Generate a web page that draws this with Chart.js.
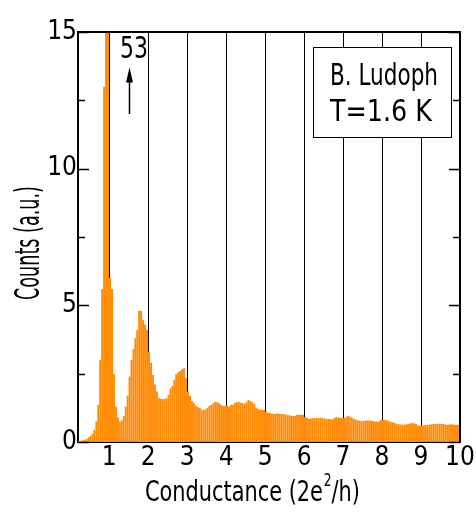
<!DOCTYPE html>
<html lang="en">
<head>
<meta charset="UTF-8">
<title>Conductance histogram</title>
<script src="https://cdn.jsdelivr.net/npm/chart.js"></script>
<style>
    html, body { margin: 0; padding: 0; background: #fff; }
    #chart { display: block; }
</style>
</head>
<body>
<canvas id="chart" width="476" height="512"></canvas>
<script>
    // Histogram bins: 0.05 wide, first bin starts at G = 0.2
    const binStart = 0.2;
    const binWidth = 0.05;
    const counts = [
        0.05, 0.05, 0.06, 0.08, 0.12, 0.17, 0.22, 0.3, 0.45, 0.75, 1.36, 3.0, 5.6, 13, 53, 19,
        6.0, 5.6, 2.5, 1.3, 0.9, 0.75, 0.8, 0.95, 1.3, 1.7, 2.4, 3.0, 3.4, 3.8, 4.1, 4.8, 4.8, 4.45, 4.3, 4.1,
        3.3, 2.9, 2.45, 2.1, 1.85, 1.62, 1.57, 1.58, 1.57, 1.6, 1.73, 1.97, 2.05, 2.27, 2.48, 2.55, 2.6, 2.66, 2.7, 2.34,
        1.85, 1.69, 1.5, 1.42, 1.33, 1.27, 1.24, 1.18, 1.16, 1.2, 1.24, 1.33, 1.35, 1.42, 1.47, 1.45, 1.42, 1.36, 1.33, 1.33,
        1.33, 1.3, 1.36, 1.36, 1.43, 1.45, 1.46, 1.44, 1.42, 1.4, 1.45, 1.54, 1.5, 1.45, 1.4, 1.26, 1.2, 1.19, 1.18, 1.18,
        1.12, 1.08, 1.06, 1.03, 1.03, 1.03, 1.05, 1.02, 1.02, 1.02, 1.01, 1.0, 0.98, 0.96, 0.96, 0.96, 1.0, 1.0, 1.0, 1.0,
        0.91, 0.88, 0.85, 0.86, 0.87, 0.88, 0.88, 0.88, 0.89, 0.88, 0.87, 0.85, 0.84, 0.84, 0.82, 0.87, 0.91, 0.9, 0.88, 0.88,
        0.88, 0.9, 0.95, 0.93, 0.9, 0.85, 0.82, 0.8, 0.78, 0.77, 0.77, 0.78, 0.79, 0.79, 0.78, 0.77, 0.75, 0.75, 0.75, 0.81,
        0.81, 0.81, 0.8, 0.76, 0.74, 0.72, 0.7, 0.67, 0.65, 0.64, 0.64, 0.64, 0.64, 0.66, 0.68, 0.69, 0.69, 0.66, 0.6, 0.6,
        0.6, 0.61, 0.62, 0.63, 0.64, 0.65, 0.66, 0.67, 0.67, 0.67, 0.67, 0.66, 0.64, 0.63, 0.64, 0.65, 0.64, 0.63, 0.63, 0.62
    ];

    // Axis ticks
    const xTicks = [1, 2, 3, 4, 5, 6, 7, 8, 9, 10];
    const yTicks = [0, 5, 10, 15];
    const yMinorTicks = [2.5, 7.5, 12.5];

    // Peak that runs off the top of the plot
    const peakLabel = '53';
    const peakArrowX = 1.52;
    const peakArrowFrom = 12.0;
    const peakArrowTo = 13.7;

    const infoLines = ['B. Ludoph', 'T=1.6 K'];

    const FONT = "'Liberation Sans Narrow', 'DejaVu Sans Condensed', 'DejaVu Sans', sans-serif";

    const points = counts.map((c, i) => ({ x: binStart + binWidth * (i + 0.5), y: c }));

    // draw text squeezed/stretched horizontally so it spans the given width
    function fitText(ctx, text, cx, cy, width, size) {
        ctx.font = size + 'px ' + FONT;
        const k = width / ctx.measureText(text).width;
        ctx.save();
        ctx.translate(cx, cy);
        ctx.scale(k, 1);
        ctx.textAlign = 'center';
        ctx.textBaseline = 'middle';
        ctx.fillText(text, 0, 0);
        ctx.restore();
    }

    // extra drawing: frame, inward ticks, titles, info box and peak marker
    const decorations = {
        id: 'decorations',
        afterDraw(chart) {
            const ctx = chart.ctx;
            const area = chart.chartArea;
            const xs = chart.scales.x;
            const ys = chart.scales.y;

            ctx.save();
            ctx.strokeStyle = '#000';
            ctx.fillStyle = '#000';

            // top and right sides of the frame
            ctx.lineWidth = 2;
            ctx.beginPath();
            ctx.moveTo(area.left - 1, area.top);
            ctx.lineTo(area.right, area.top);
            ctx.lineTo(area.right, area.bottom + 1);
            ctx.stroke();

            // inward ticks on both y sides
            ctx.lineWidth = 1.5;
            ctx.beginPath();
            yTicks.concat(yMinorTicks).forEach(v => {
                const y = Math.round(ys.getPixelForValue(v)) + 0.5;
                const len = yMinorTicks.includes(v) ? 7 : 11;
                ctx.moveTo(area.left, y);
                ctx.lineTo(area.left + len, y);
                ctx.moveTo(area.right, y);
                ctx.lineTo(area.right - len, y);
            });
            ctx.stroke();

            // x title with superscript, squeezed to a narrow face
            ctx.save();
            ctx.translate(145, 493);
            ctx.scale(0.8, 1);
            ctx.textAlign = 'left';
            ctx.textBaseline = 'middle';
            ctx.font = '29px ' + FONT;
            ctx.fillText('Conductance (2e', 0, 0);
            let w = ctx.measureText('Conductance (2e').width;
            ctx.font = '17px ' + FONT;
            ctx.fillText('2', w + 1, -11);
            w += ctx.measureText('2').width + 1;
            ctx.font = '29px ' + FONT;
            ctx.fillText('/h)', w, 0);
            ctx.restore();

            // y title
            ctx.save();
            ctx.translate(30, 243);
            ctx.rotate(-Math.PI / 2);
            fitText(ctx, 'Counts (a.u.)', 0, 0, 114, 34);
            ctx.restore();

            // info box
            ctx.fillStyle = '#fff';
            ctx.fillRect(313, 47, 138, 90);
            ctx.lineWidth = 1;
            ctx.strokeRect(313.5, 47.5, 138, 90);
            ctx.fillStyle = '#000';
            fitText(ctx, infoLines[0], 384, 77, 108, 31);
            fitText(ctx, infoLines[1], 381, 113, 102, 31);

            // peak value and arrow
            const ax = Math.round(xs.getPixelForValue(peakArrowX)) + 0.5;
            const y0 = ys.getPixelForValue(peakArrowFrom);
            const y1 = ys.getPixelForValue(peakArrowTo);
            ctx.lineWidth = 1.5;
            ctx.beginPath();
            ctx.moveTo(ax, y0);
            ctx.lineTo(ax, y1 + 12);
            ctx.stroke();
            ctx.beginPath();
            ctx.moveTo(ax, y1);
            ctx.lineTo(ax - 3.5, y1 + 15);
            ctx.lineTo(ax + 3.5, y1 + 15);
            ctx.closePath();
            ctx.fill();
            fitText(ctx, peakLabel, 134, 50, 28, 31);

            ctx.restore();
        }
    };

    new Chart(document.getElementById('chart'), {
        type: 'bar',
        data: {
            datasets: [{
                data: points,
                backgroundColor: '#ff8a05',
                borderColor: '#ffa640',
                borderWidth: { left: 0.5, right: 0, top: 0, bottom: 0 },
                borderSkipped: false,
                barPercentage: 1,
                categoryPercentage: 1
            }]
        },
        options: {
            responsive: false,
            animation: false,
            devicePixelRatio: 1,
            layout: { padding: { top: 32, right: 16, left: 0, bottom: 0 } },
            plugins: {
                legend: { display: false },
                tooltip: { enabled: false }
            },
            scales: {
                x: {
                    type: 'linear',
                    min: binStart,
                    max: 10,
                    offset: false,
                    z: 1,
                    afterFit: s => { s.height = 70; },
                    afterBuildTicks: s => { s.ticks = xTicks.map(v => ({ value: v })); },
                    grid: { color: '#000', lineWidth: 1, drawTicks: false, offset: false },
                    border: { color: '#000', width: 2 },
                    ticks: {
                        autoSkip: false,
                        maxRotation: 0,
                        padding: 1,
                        color: '#000',
                        font: { family: FONT, size: 26 }
                    }
                },
                y: {
                    min: 0,
                    max: 15,
                    afterFit: s => { s.width = 78; },
                    afterBuildTicks: s => { s.ticks = yTicks.map(v => ({ value: v })); },
                    grid: { display: false, drawTicks: false },
                    border: { color: '#000', width: 2 },
                    ticks: {
                        padding: 1,
                        color: '#000',
                        font: { family: FONT, size: 26 }
                    }
                }
            }
        },
        plugins: [decorations]
    });
</script>
</body>
</html>
